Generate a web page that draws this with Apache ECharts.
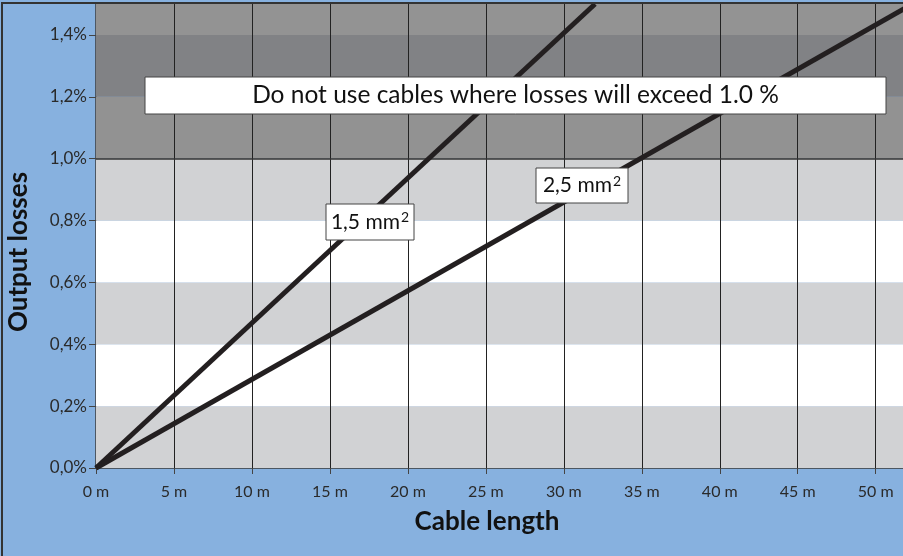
<!DOCTYPE html>
<html>
<head>
<meta charset="utf-8">
<script src="https://cdn.jsdelivr.net/npm/echarts@6/dist/echarts.min.js"></script>
<style>
  html, body { margin: 0; padding: 0; background: #87b1df; }
  #main { width: 903px; height: 556px; }
</style>
</head>
<body>
<div id="main"></div>
<script>
  // cable length (m) -> output loss (%)
  var cable15 = [[0, 0], [32, 1.5]];
  var cable25 = [[0, 0], [52, 1.49]];
  var xTicks = [0, 5, 10, 15, 20, 25, 30, 35, 40, 45, 50];
  var yTicks = [0, 0.2, 0.4, 0.6, 0.8, 1.0, 1.2, 1.4];
  // background bands [from, to, colour]
  var bands = [
    [0, 0.2, "#d1d2d4"], [0.2, 0.4, "#ffffff"], [0.4, 0.6, "#d1d2d4"],
    [0.6, 0.8, "#ffffff"], [0.8, 1.0, "#d1d2d4"], [1.0, 1.2, "#929292"],
    [1.2, 1.4, "#818285"], [1.4, 1.5, "#939393"]
  ];
  var limit = 1.0;

  var font = "Lato";
  var chart = echarts.init(document.getElementById("main"));

  // white note box with centred text
  function noteBox(x, y, w, h, text, size) {
    return [
      {
        type: "rect", shape: { x: x, y: y, width: w, height: h },
        style: { fill: "#fff", stroke: "#444", lineWidth: 1 }, z: 50
      },
      {
        type: "text", x: x + w / 2, y: y + h / 2, z: 51,
        style: {
          text: text, fontFamily: font, fontSize: size, fill: "#111",
          align: "center", verticalAlign: "middle",
          rich: { sup: { fontFamily: font, fontSize: 14, fill: "#111", padding: [0, 0, 9, 1] } }
        }
      }
    ];
  }

  var option = {
    backgroundColor: "#87b1df",
    animation: false,
    grid: { left: 96, right: 0, top: 4, bottom: 88 },
    xAxis: {
      type: "value",
      min: 0,
      max: 51.75,
      axisLine: { lineStyle: { color: "#3a3a3a", width: 1.5 } },
      axisTick: { length: 6, lineStyle: { color: "#444" }, customValues: xTicks },
      axisLabel: {
        customValues: xTicks,
        formatter: function (v) { return v + " m"; },
        color: "#2a2a2a", fontFamily: font, fontSize: 16, margin: 16
      },
      splitLine: { show: false }
    },
    yAxis: {
      type: "value",
      min: 0,
      max: 1.5,
      axisLine: { show: true, lineStyle: { color: "#3a3a3a", width: 1.5 } },
      axisTick: { show: true, length: 7, lineStyle: { color: "#444" }, customValues: yTicks },
      axisLabel: {
        customValues: yTicks,
        formatter: function (v) { return v.toFixed(1).replace(".", ",") + "%"; },
        color: "#2a2a2a", fontFamily: font, fontSize: 17, margin: 9
      },
      splitLine: { show: false }
    },
    graphic: [
      { type: "rect", shape: { x: 2, y: 3, width: 920, height: 600 }, style: { fill: null, stroke: "#333", lineWidth: 2 }, z: 100 },
      {
        type: "text", x: 19, y: 252, rotation: Math.PI / 2,
        style: { text: "Output losses", font: "bold 26px " + font, fill: "#111", align: "center", verticalAlign: "middle" }
      },
      {
        type: "text", x: 487, y: 522,
        style: { text: "Cable length", font: "bold 26px " + font, fill: "#111", align: "center", verticalAlign: "middle" }
      }
    ].concat(
      noteBox(145, 77, 741, 37, "Do not use cables where losses will exceed 1.0 %", 24.5),
      noteBox(326, 204, 88, 36, "1,5 mm{sup|2}", 21),
      noteBox(536, 168, 92, 35, "2,5 mm{sup|2}", 21)
    ),
    series: [
      {
        name: "bands",
        type: "line",
        data: [],
        z: 1,
        silent: true,
        markArea: {
          silent: true,
          data: bands.map(function (b) {
            return [{ yAxis: b[0], itemStyle: { color: b[2] } }, { yAxis: b[1] }];
          })
        },
        markLine: {
          silent: true,
          symbol: "none",
          label: { show: false },
          lineStyle: { color: "#222", width: 1, type: "solid" },
          data: xTicks.slice(1).map(function (x) { return { xAxis: x }; })
            .concat([{ yAxis: limit, lineStyle: { color: "#333", width: 1.5 } }])
        }
      },
      {
        name: "1,5 mm²",
        type: "line",
        data: cable15,
        symbol: "none",
        z: 5,
        lineStyle: { color: "#231f20", width: 5 }
      },
      {
        name: "2,5 mm²",
        type: "line",
        data: cable25,
        symbol: "none",
        z: 5,
        lineStyle: { color: "#231f20", width: 5 }
      }
    ]
  };

  chart.setOption(option);
  window.addEventListener("resize", function () {
    chart.resize();
  });
</script>
</body>
</html>
